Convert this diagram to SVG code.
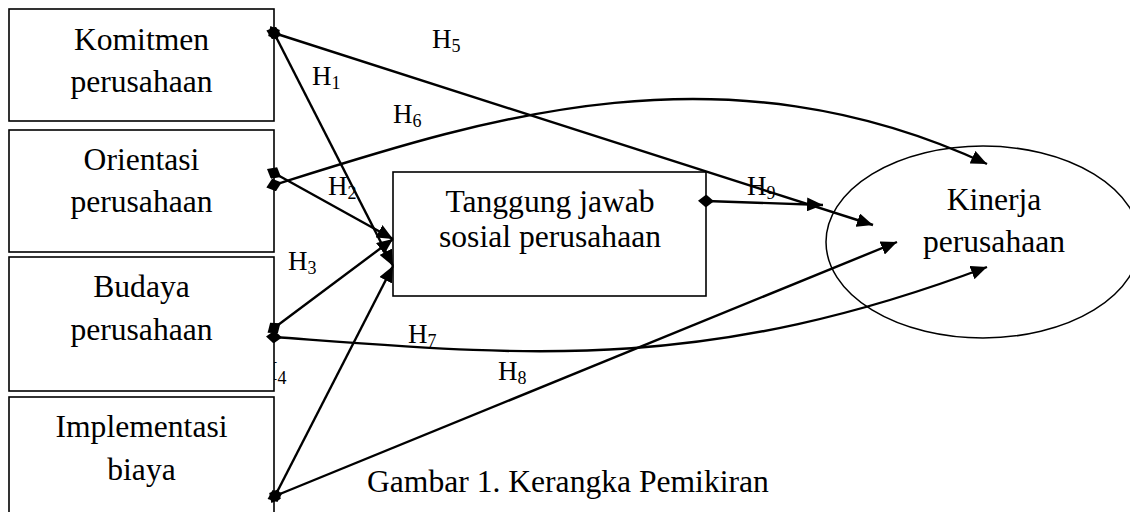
<svg xmlns="http://www.w3.org/2000/svg" width="1130" height="512" viewBox="0 0 1130 512">
<style>
.box{fill:#fff;stroke:#000;stroke-width:1.6}
.t{font-family:"Liberation Serif","Times New Roman",serif;font-size:31.6px;fill:#000;text-anchor:middle}
.h{font-family:"Liberation Serif","Times New Roman",serif;font-size:27px;fill:#000}
.c{fill:none;stroke:#000;stroke-width:2.4;marker-start:url(#dia);marker-end:url(#arr)}
</style>
<defs>
<marker id="arr" viewBox="0 0 16 14" refX="16" refY="7" markerWidth="16" markerHeight="14" orient="auto" markerUnits="userSpaceOnUse"><path d="M0,0 L16,7 L0,14 z" fill="#000"/></marker>
<marker id="dia" viewBox="0 0 16 13" refX="8" refY="6.5" markerWidth="16" markerHeight="13" orient="auto" markerUnits="userSpaceOnUse"><path d="M0,6.5 L8,0 L16,6.5 L8,13 z" fill="#000"/></marker>
</defs>
<rect width="1130" height="512" fill="#fff"/>
<text class="h" x="258" y="380">H<tspan font-size="18" dy="4">4</tspan></text>
<g id="komitmen"><rect class="box" x="9" y="9" width="265" height="112"/><text class="t" x="141.5" y="50">Komitmen</text><text class="t" x="141.5" y="92">perusahaan</text></g>
<g id="orientasi"><rect class="box" x="9" y="130" width="265" height="122"/><text class="t" x="141.5" y="170">Orientasi</text><text class="t" x="141.5" y="212">perusahaan</text></g>
<g id="budaya"><rect class="box" x="9" y="257" width="265" height="134"/><text class="t" x="141.5" y="297">Budaya</text><text class="t" x="141.5" y="340">perusahaan</text></g>
<g id="implementasi"><rect class="box" x="9" y="397" width="265" height="125"/><text class="t" x="141.5" y="437">Implementasi</text><text class="t" x="141.5" y="480">biaya</text></g>
<g id="tanggung"><rect class="box" x="393" y="172" width="313" height="124" stroke-width="1.3"/><text class="t" x="550" y="212">Tanggung jawab</text><text class="t" x="550" y="247">sosial perusahaan</text></g>
<g id="kinerja"><ellipse cx="983" cy="242" rx="157" ry="96" fill="none" stroke="#000" stroke-width="1.5"/><text class="t" x="994" y="210">Kinerja</text><text class="t" x="994" y="252">perusahaan</text></g>
<g id="connectors">
<path class="c" d="M274,33 L393,266"/>
<path class="c" d="M274,33 L873,225"/>
<path class="c" d="M274,173 L393,239"/>
<path class="c" d="M274,185 C480,120 720,40 987,164"/>
<path class="c" d="M274,328 L393,239"/>
<path class="c" d="M274,337 C520,355 700,375 987,267"/>
<path class="c" d="M275,496 L393,266"/>
<path class="c" d="M275,496 L897,242"/>
<path class="c" d="M706,201 L823,205"/>
</g>
<g id="labels">
<text class="h" x="432" y="48">H<tspan font-size="18" dy="4">5</tspan></text>
<text class="h" x="312" y="85">H<tspan font-size="18" dy="4">1</tspan></text>
<text class="h" x="393" y="123">H<tspan font-size="18" dy="4">6</tspan></text>
<text class="h" x="328" y="195">H<tspan font-size="18" dy="4">2</tspan></text>
<text class="h" x="288" y="270">H<tspan font-size="18" dy="4">3</tspan></text>
<text class="h" x="408" y="343">H<tspan font-size="18" dy="4">7</tspan></text>
<text class="h" x="498" y="380">H<tspan font-size="18" dy="4">8</tspan></text>
<text class="h" x="747" y="195">H<tspan font-size="18" dy="4">9</tspan></text>
</g>
<text class="t" x="367" y="492" style="text-anchor:start">Gambar 1. Kerangka Pemikiran</text>
</svg>
